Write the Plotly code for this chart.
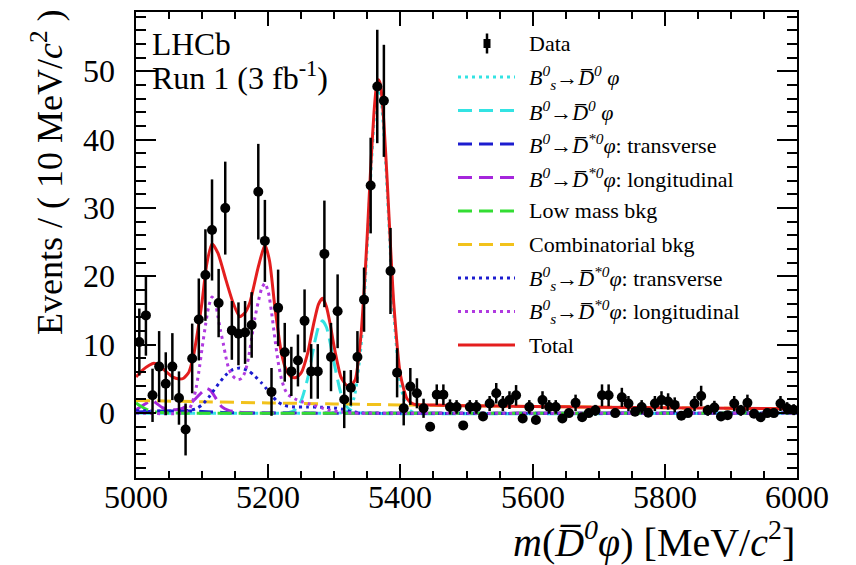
import plotly.graph_objects as go

# ---------------- data: m(D0bar phi) histogram, 10 MeV bins ----------------
bin_centers = list(range(5005, 6000, 10))
data_values = [
    10.4, 14.3, 2.6, 6.8, 4.3, 6.8, 2.2, -2.4, 8.0, 13.7,
    20.2, 26.8, 16.1, 30.0, 12.1, 11.6, 11.8, 12.9, 32.4, 25.2,
    3.1, 15.4, 8.9, 6.1, 7.7, 13.5, 6.1, 6.1, 23.3, 8.2,
    14.9, 2.0, 3.7, 8.2, 16.6, 33.3, 47.8, 45.7, 20.8, 5.9,
    0.7, 3.9, 2.9, 0.7, -2.0, 2.7, 2.7, 0.9, 0.9, -1.8,
    0.9, 0.9, -0.5, 1.4, 2.9, 1.4, 1.9, 2.6, -0.8, 0.9,
    -1.0, 1.9, 0.9, 0.9, -0.8, 0.0, 1.5, -0.6, 0.0, 0.4,
    2.6, 2.6, 0.0, 2.3, 1.4, 0.2, 0.9, 0.05, 1.4, 1.9,
    1.7, 1.2, -0.4, 0.0, 1.4, 2.5, 0.4, 0.8, -0.5, -0.3,
    1.4, 0.4, 1.5, -0.1, -0.6, 0.0, 0.0, 1.4, 0.7, 0.5,
]
data_errors = [
    4.9, 5.9, 3.9, 5.2, 4.6, 4.9, 3.9, 3.8, 5.1, 6.0,
    6.7, 7.4, 5.0, 6.8, 4.3, 4.6, 4.6, 4.8, 7.0, 6.0,
    3.5, 5.6, 4.3, 3.6, 3.8, 4.6, 4.0, 4.0, 7.8, 5.0,
    5.4, 4.2, 2.6, 3.8, 4.7, 7.0, 8.3, 8.2, 6.3, 3.6,
    2.5, 2.7, 2.2, 1.4, 0.4, 1.5, 1.5, 1.1, 1.0, 0.4,
    1.0, 1.0, 0.4, 1.1, 1.5, 1.1, 1.3, 1.5, 0.4, 1.0,
    0.4, 1.3, 1.0, 1.0, 0.4, 0.5, 1.2, 0.4, 0.5, 0.8,
    1.6, 1.6, 0.5, 1.4, 1.1, 0.6, 1.0, 0.5, 1.1, 1.3,
    1.2, 1.1, 0.4, 0.5, 1.1, 1.5, 0.8, 1.0, 0.4, 0.4,
    1.1, 0.8, 1.2, 0.4, 0.4, 0.5, 0.5, 1.1, 0.9, 0.8,
]

# ---------------- fit components ----------------
bs_d0_m = [5000, 5300, 5310, 5320, 5330, 5340, 5345, 5350, 5355, 5360, 5364, 5367,
           5370, 5375, 5380, 5385, 5390, 5400, 5410, 5420, 5430, 6000]
bs_d0_v = [0, 0, 0.03, 0.35, 2.27, 9.4, 16.2, 24.9, 34.4, 42.5, 46.5, 47.4,
           46.5, 41.1, 32.6, 23.1, 14.6, 4.2, 0.78, 0.09, 0, 0]

b0_d0_m = [5000, 5220, 5230, 5240, 5250, 5260, 5265, 5270, 5276, 5282, 5288, 5294,
           5300, 5310, 5320, 5330, 5340, 6000]
b0_d0_v = [0, 0, 0.07, 0.43, 1.83, 5.2, 7.7, 10.2, 12.6, 13.5, 12.6, 10.2,
           7.2, 2.9, 0.8, 0.15, 0, 0]

b0_dst_tr_m = [5000, 5040, 5070, 5100, 5130, 5160, 5200, 6000]
b0_dst_tr_v = [0.15, 0.3, 0.35, 0.25, 0.1, 0.02, 0, 0]

b0_dst_lo_m = [5000, 5010, 5020, 5025, 5030, 5040, 5050, 5060, 5070, 5080, 5090, 5100,
               5107, 5113, 5120, 5125, 5130, 5140, 5150, 5170, 5200, 6000]
b0_dst_lo_v = [0.5, 1.1, 1.7, 1.8, 1.5, 0.8, 0.5, 0.5, 0.7, 1.2, 2.1, 3.1,
               3.6, 3.3, 2.3, 1.5, 0.9, 0.4, 0.2, 0.05, 0, 0]

lowmass_m = [5000, 5005, 5010, 5015, 5020, 5030, 5040, 5050, 5060, 6000]
lowmass_v = [1.5, 1.15, 0.85, 0.6, 0.4, 0.18, 0.07, 0.02, 0, 0]

comb_m = [5000, 5100, 5200, 5300, 5400, 5500, 5600, 5700, 5800, 5900, 6000]
comb_v = [1.85, 1.66, 1.49, 1.34, 1.2, 1.08, 0.97, 0.87, 0.78, 0.7, 0.62]

bs_dst_tr_m = [5000, 5040, 5080, 5090, 5100, 5110, 5116, 5125, 5135, 5145, 5157, 5170,
               5180, 5190, 5197, 5205, 5215, 5225, 5240, 5260, 5280, 5300, 5315,
               5325, 5335, 5345, 6000]
bs_dst_tr_v = [0.35, 0.3, 0.4, 0.6, 1.2, 2.3, 3.1, 4.3, 5.5, 6.3, 6.6, 6.2,
               5.4, 4.4, 3.6, 2.6, 1.6, 1.1, 0.9, 0.9, 0.85, 0.75, 0.5,
               0.25, 0.08, 0, 0]

bs_dst_lo_m = [5000, 5070, 5080, 5085, 5090, 5095, 5100, 5105, 5110, 5115, 5120, 5124,
               5128, 5132, 5136, 5140, 5145, 5150, 5155, 5160, 5165, 5170, 5175,
               5180, 5185, 5190, 5195, 5200, 5205, 5210, 5215, 5220, 5225, 5230,
               5240, 5250, 5260, 5270, 5280, 5290, 5300, 5310, 5320, 5330, 6000]
bs_dst_lo_v = [0, 0, 0.5, 1.5, 3.2, 6.0, 9.5, 12.8, 15.6, 17.0, 16.2, 14.1,
               12.0, 10.2, 8.2, 6.6, 5.6, 5.1, 4.9, 5.1, 6.0, 8.0, 11.0,
               14.0, 16.3, 18.2, 19.0, 17.8, 14.8, 11.0, 7.5, 5.0, 3.5, 2.7,
               2.1, 1.7, 1.4, 1.1, 0.8, 0.5, 0.3, 0.15, 0.05, 0, 0]

total_m = [5000, 5010, 5020, 5027, 5035, 5045, 5055, 5065, 5072, 5080, 5087, 5095,
           5100, 5107, 5115, 5124, 5136, 5147, 5157, 5165, 5172, 5185, 5195, 5202,
           5210, 5220, 5227, 5235, 5242, 5250, 5260, 5265, 5270, 5276, 5282, 5288,
           5294, 5300, 5310, 5318, 5325, 5332, 5340, 5345, 5350, 5355, 5360, 5364,
           5367, 5370, 5375, 5380, 5385, 5390, 5400, 5410, 5420, 5450, 5500, 5600,
           5700, 5800, 5900, 6000]
total_v = [5.3, 6.3, 7.0, 7.3, 7.0, 6.1, 5.3, 5.0, 5.1, 6.0, 8.4, 13.0,
           16.3, 21.8, 24.8, 23.4, 19.5, 16.1, 14.1, 14.7, 16.1, 21.4, 24.6, 22.3,
           15.6, 8.8, 6.4, 5.3, 5.2, 5.9, 8.9, 11.3, 13.6, 15.9, 16.8, 15.6,
           12.9, 9.6, 5.3, 4.1, 4.0, 5.0, 11.0, 17.8, 26.3, 35.8, 43.9, 48.0,
           48.8, 48.0, 42.5, 34.0, 24.5, 16.0, 5.6, 2.1, 1.3, 1.17, 1.08, 0.97,
           0.87, 0.78, 0.70, 0.62]

# axis tick labels
x_ticks = [5000, 5200, 5400, 5600, 5800, 6000]
y_ticks = [0, 10, 20, 30, 40, 50]

# ---------------- styles ----------------
FONT = "Liberation Serif"
DASH = "14px,7px"
DOT = "3px,4px"
DB = "D\u0305"

components = [
    # (x, y, color, dash, legend label)
    (bs_d0_m, bs_d0_v, "#33e3e3", DOT,
     f"<i>B</i><sup><i>0</i></sup><sub><i>s</i></sub>→<i>{DB}</i><sup><i>0</i></sup> <i>φ</i>"),
    (b0_d0_m, b0_d0_v, "#33e3e3", DASH,
     f"<i>B</i><sup><i>0</i></sup>→<i>{DB}</i><sup><i>0</i></sup> <i>φ</i>"),
    (b0_dst_tr_m, b0_dst_tr_v, "#1c1ccf", DASH,
     f"<i>B</i><sup><i>0</i></sup>→<i>{DB}</i><sup><i>*0</i></sup><i>φ</i>: transverse"),
    (b0_dst_lo_m, b0_dst_lo_v, "#a526dc", DASH,
     f"<i>B</i><sup><i>0</i></sup>→<i>{DB}</i><sup><i>*0</i></sup><i>φ</i>: longitudinal"),
    (lowmass_m, lowmass_v, "#33dd33", DASH, "Low mass bkg"),
    (comb_m, comb_v, "#f2c21b", DASH, "Combinatorial bkg"),
    (bs_dst_tr_m, bs_dst_tr_v, "#1c1ccf", DOT,
     f"<i>B</i><sup><i>0</i></sup><sub><i>s</i></sub>→<i>{DB}</i><sup><i>*0</i></sup><i>φ</i>: transverse"),
    (bs_dst_lo_m, bs_dst_lo_v, "#b03ae0", DOT,
     f"<i>B</i><sup><i>0</i></sup><sub><i>s</i></sub>→<i>{DB}</i><sup><i>*0</i></sup><i>φ</i>: longitudinal"),
    (total_m, total_v, "#e41e1e", "solid", "Total"),
]

fig = go.Figure()
for xs, ys, col, dash, name in components:
    fig.add_trace(go.Scatter(
        x=xs, y=ys, mode="lines", name=name, showlegend=False,
        line=dict(color=col, width=3, dash=dash, shape="spline", smoothing=0.6),
        hoverinfo="skip"))

fig.add_trace(go.Scatter(
    x=bin_centers, y=data_values, mode="markers", name="Data", showlegend=False,
    marker=dict(color="black", size=10, symbol="circle"),
    error_y=dict(type="data", array=data_errors, visible=True, color="black",
                 thickness=2.5, width=0)))

# ---------------- plot area geometry (page pixels) ----------------
# the page body has an 8 px margin, so the figure starts at (8, 8)
OFF = 8
W, H = 856 - OFF, 565 - OFF
L, R, T, B = 136, 797, 12, 478  # plot frame in page pixels


def px(xp):
    return (xp - L) / (R - L)


def py(yp):
    return (B - yp) / (B - T)


shapes = []
annotations = []

# custom legend
leg_y = [43.5, 77, 110.5, 144, 177.5, 211, 244.5, 278, 311.5, 345]
x0l, x1l, xt = 458, 515, 527
shapes.append(dict(type="line", xref="paper", yref="paper",
                   x0=px(487), x1=px(487), y0=py(leg_y[0] - 10), y1=py(leg_y[0] + 10),
                   line=dict(color="black", width=2.5)))
shapes.append(dict(type="rect", xref="paper", yref="paper",
                   x0=px(483.5), x1=px(490.5), y0=py(leg_y[0] - 4.5), y1=py(leg_y[0] + 4.5),
                   fillcolor="black", line=dict(color="black", width=0)))
annotations.append(dict(text="Data", x=px(xt), y=py(leg_y[0]), xref="paper", yref="paper",
                        xanchor="left", yanchor="middle", showarrow=False,
                        font=dict(family=FONT, size=22, color="black")))
for i, (xs, ys, col, dash, name) in enumerate(components):
    yy = leg_y[i + 1]
    shapes.append(dict(type="line", xref="paper", yref="paper",
                       x0=px(x0l), x1=px(x1l), y0=py(yy), y1=py(yy),
                       line=dict(color=col, width=3, dash=dash)))
    annotations.append(dict(text=name, x=px(xt), y=py(yy), xref="paper", yref="paper",
                            xanchor="left", yanchor="middle", showarrow=False,
                            font=dict(family=FONT, size=22, color="black")))

# LHCb label
annotations.append(dict(text="LHCb", x=px(150), y=py(44), xref="paper", yref="paper",
                        xanchor="left", yanchor="middle", showarrow=False,
                        font=dict(family=FONT, size=31.5, color="black")))
annotations.append(dict(text="Run 1 (3 fb<sup>-1</sup>)", x=px(150), y=py(76),
                        xref="paper", yref="paper", xanchor="left", yanchor="middle",
                        showarrow=False, font=dict(family=FONT, size=32, color="black")))

# axis titles
annotations.append(dict(text="Events / ( 10 MeV/<i>c</i><sup>2</sup> )",
                        x=px(47), y=py(172), xref="paper", yref="paper",
                        xanchor="center", yanchor="middle", textangle=-90, showarrow=False,
                        font=dict(family=FONT, size=36, color="black")))
annotations.append(dict(text=f"<i>m</i>(<i>{DB}</i><sup><i>0</i></sup><i>φ</i>) [MeV/<i>c</i><sup>2</sup>]",
                        x=1.0, y=py(539), xref="paper", yref="paper",
                        xanchor="right", yanchor="middle", showarrow=False,
                        font=dict(family=FONT, size=40, color="black")))

# tick labels (serif, placed through the axes' own data coordinates)
for v in x_ticks:
    annotations.append(dict(text=str(v), x=v, xref="x", y=py(497), yref="paper",
                            xanchor="center", yanchor="middle", showarrow=False,
                            font=dict(family=FONT, size=32, color="black")))
for v in y_ticks:
    annotations.append(dict(text=str(v), x=px(117), xref="paper", y=v, yref="y",
                            xanchor="right", yanchor="middle", showarrow=False,
                            font=dict(family=FONT, size=32, color="black")))

axis_common = dict(showline=True, linecolor="black", linewidth=2, mirror="allticks",
                   ticks="inside", tickcolor="black", tickwidth=2, showgrid=False,
                   zeroline=False, automargin=False, showticklabels=False)

fig.update_layout(
    template="none",
    width=W, height=H,
    margin=dict(l=L - OFF, r=856 - R, t=T - OFF, b=565 - B, autoexpand=False),
    paper_bgcolor="white", plot_bgcolor="white",
    font=dict(family=FONT, color="black"),
    showlegend=False,
    shapes=shapes, annotations=annotations,
    xaxis=dict(range=[5000, 6000], tick0=5000, dtick=200, ticklen=14,
               minor=dict(dtick=50, ticklen=7, tickwidth=2, ticks="inside",
                          tickcolor="black", showgrid=False),
               **axis_common),
    yaxis=dict(range=[-9.5, 58.7], tick0=0, dtick=10, ticklen=20,
               minor=dict(dtick=2, ticklen=10, tickwidth=2, ticks="inside",
                          tickcolor="black", showgrid=False),
               **axis_common),
)

fig.write_html("out.html")
